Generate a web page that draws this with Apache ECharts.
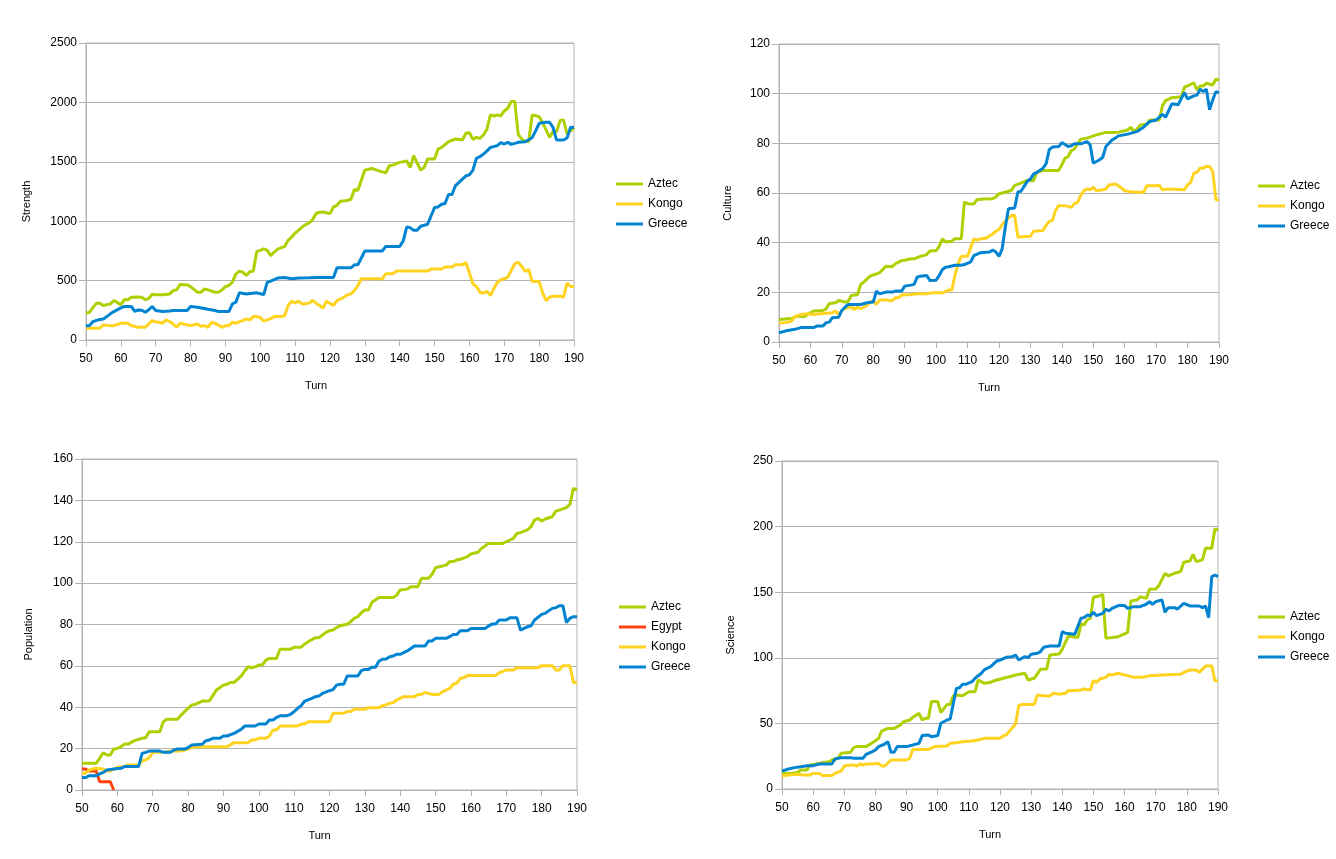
<!DOCTYPE html>
<html>
<head>
<meta charset="utf-8">
<title>Civ stats</title>
<script src="https://cdn.jsdelivr.net/npm/echarts@6/dist/echarts.min.js"></script>
<style>
  html, body { margin: 0; padding: 0; background: #fff; }
  #main { width: 1336px; height: 859px; }
</style>
</head>
<body>
<div id="main"></div>
<script>
// turns run 50..190, each pair is [turn, value]
var turnMin = 50, turnMax = 190, turnStep = 10;

// Strength
var strengthAztec = [[50,225],[51,234],[53,310],[54,310],[55,290],[57,304],[58,332],[60,298],[61,340],[62,338],[63,360],[65,362],[66,360],[67,338],[68,350],[69,385],[70,380],[72,380],[74,388],[75,416],[76,422],[77,467],[79,464],[80,450],[82,402],[83,402],[84,430],[85,422],[87,402],[88,402],[89,422],[90,450],[91,459],[92,487],[93,557],[94,580],[95,571],[96,543],[97,575],[98,580],[99,746],[100,754],[101,768],[102,754],[103,709],[104,740],[105,765],[107,788],[108,839],[109,867],[110,900],[112,951],[113,971],[114,985],[115,1013],[116,1065],[117,1075],[118,1078],[120,1064],[121,1120],[122,1134],[123,1168],[125,1175],[126,1185],[127,1267],[128,1261],[130,1430],[132,1444],[134,1424],[136,1407],[137,1467],[138,1472],[140,1495],[142,1506],[143,1452],[144,1551],[146,1430],[147,1452],[148,1523],[150,1523],[151,1607],[152,1621],[154,1669],[156,1692],[158,1683],[159,1740],[160,1745],[161,1689],[162,1706],[163,1697],[164,1726],[165,1773],[166,1894],[167,1886],[168,1894],[169,1886],[170,1928],[171,1951],[172,2007],[173,2007],[174,1731],[175,1690],[176,1672],[177,1669],[178,1894],[180,1880],[181,1830],[183,1706],[184,1754],[185,1754],[186,1847],[187,1852],[188,1734],[189,1760],[190,1788]];
var strengthKongo = [[50,99],[53,99],[54,101],[55,127],[57,121],[58,121],[60,141],[62,141],[63,120],[64,115],[65,107],[67,107],[69,163],[70,152],[71,149],[72,141],[73,169],[74,155],[75,135],[76,107],[77,141],[79,127],[80,121],[82,135],[83,115],[84,121],[85,107],[86,149],[87,140],[88,125],[89,107],[90,121],[91,121],[92,149],[93,141],[94,155],[95,163],[96,177],[97,169],[98,197],[99,197],[100,190],[101,158],[102,170],[103,180],[104,197],[106,197],[107,205],[108,290],[109,327],[110,312],[111,327],[112,304],[114,310],[115,332],[116,310],[117,290],[118,267],[119,327],[121,290],[122,332],[124,360],[125,380],[126,388],[127,416],[128,459],[129,515],[135,515],[136,557],[138,557],[139,580],[148,580],[149,597],[152,597],[153,614],[155,614],[156,633],[158,633],[159,653],[161,473],[162,450],[163,402],[164,394],[165,411],[166,374],[167,431],[168,487],[169,507],[170,515],[171,529],[173,642],[174,656],[175,619],[176,577],[177,594],[178,493],[180,493],[181,397],[182,332],[183,360],[184,369],[186,369],[187,360],[188,479],[189,450],[190,450]];
var strengthGreece = [[50,121],[51,121],[52,155],[53,165],[54,172],[55,177],[57,220],[58,239],[60,270],[61,282],[63,282],[64,242],[65,253],[66,250],[67,234],[68,255],[69,282],[70,248],[72,239],[74,244],[75,248],[79,248],[80,282],[82,276],[85,259],[87,248],[88,239],[91,239],[92,304],[93,318],[94,397],[96,388],[99,397],[100,390],[101,383],[102,487],[103,495],[105,521],[107,526],[109,515],[111,521],[114,523],[117,526],[121,526],[122,608],[126,608],[127,633],[128,633],[130,749],[135,749],[136,788],[140,788],[141,833],[142,951],[143,946],[144,923],[145,923],[146,957],[148,974],[150,1115],[151,1120],[152,1143],[153,1149],[154,1225],[155,1225],[156,1300],[158,1354],[159,1382],[160,1390],[161,1430],[162,1529],[163,1543],[164,1565],[165,1590],[166,1621],[168,1636],[169,1661],[170,1650],[171,1664],[172,1647],[173,1655],[174,1664],[176,1669],[178,1703],[179,1760],[180,1824],[182,1833],[183,1833],[184,1788],[185,1683],[187,1683],[188,1700],[189,1790],[190,1788]];

// Culture
var cultureAztec = [[50,9.1],[53,9.4],[54,9.4],[55,10.0],[56,10.4],[58,10.2],[60,11.8],[61,12.5],[64,12.7],[65,13.4],[66,15.5],[68,15.8],[69,16.7],[71,16.1],[72,16.3],[73,18.7],[75,19.1],[76,23.2],[77,24.1],[78,25.4],[79,26.5],[80,27.0],[81,27.4],[82,27.9],[84,30.5],[86,30.3],[87,31.5],[89,32.8],[90,32.9],[92,33.5],[93,33.5],[95,34.5],[97,35.2],[98,36.6],[100,36.8],[101,38.6],[102,41.5],[103,40.3],[105,40.6],[106,41.6],[108,41.6],[109,56.4],[110,55.7],[112,55.6],[113,57.3],[115,57.6],[118,57.7],[119,58.4],[120,59.7],[122,60.3],[124,61.1],[125,63.1],[127,64],[129,65.1],[131,64.9],[132,68.3],[134,69.1],[139,69.1],[140,71.4],[141,74],[142,74.7],[143,77.1],[144,77.7],[146,81.7],[148,82.1],[151,83.4],[154,84.4],[158,84.5],[161,85.4],[162,86.5],[163,84.5],[165,87.4],[167,87.7],[168,89.4],[171,89.4],[172,95.1],[173,97.2],[175,98.4],[178,98.8],[179,102.6],[180,103.1],[182,104.4],[183,101.5],[184,103.1],[185,103.1],[186,104.2],[188,103.5],[189,105.8],[190,105.5]];
var cultureKongo = [[50,7.5],[53,8],[54,8.4],[55,10.2],[57,11.1],[59,11.4],[61,11.1],[64,11.5],[67,11.8],[68,12.5],[69,11.1],[70,12.7],[71,13.6],[73,14.1],[74,13.1],[75,14.1],[76,13.4],[78,14.7],[79,16.1],[80,16.5],[81,15.1],[82,16.9],[84,16.9],[86,16.6],[87,17.8],[88,17.8],[89,18.9],[92,19.1],[94,19.4],[97,19.4],[99,19.8],[102,19.8],[104,20.9],[105,20.9],[106,27],[107,31.5],[108,34.5],[110,34.5],[111,38],[112,41.5],[113,41],[114,41.5],[116,41.9],[117,42.8],[118,43.5],[119,44.6],[120,45.3],[121,47.3],[123,49.9],[124,50.9],[125,51],[126,42.3],[130,42.6],[131,44.6],[134,44.9],[135,47],[136,48.6],[137,49],[138,53],[139,54.9],[141,54.9],[143,54.2],[144,55.7],[145,56.2],[146,59],[147,60.9],[148,61.6],[149,61.3],[150,62.3],[151,60.9],[153,61.3],[154,61.6],[155,63.3],[156,63.3],[157,63.7],[159,62],[160,60.9],[162,60.5],[164,60.3],[166,60.3],[167,62.9],[170,62.9],[171,63.1],[172,61.3],[174,61.6],[179,61.3],[180,63.3],[181,64.3],[182,68],[183,68.3],[184,70],[185,70],[186,70.7],[187,70.7],[188,68.7],[189,57.3],[190,57.3]];
var cultureGreece = [[50,3.7],[52,4.4],[55,5.1],[57,5.8],[61,5.8],[62,6.4],[64,6.4],[65,7.8],[66,8],[67,9.8],[69,10],[70,12.7],[71,14.0],[72,15.1],[76,15.1],[78,15.8],[80,16.1],[81,20.5],[82,19.4],[84,20.1],[86,20.1],[87,20.5],[89,20.5],[90,22.5],[92,22.9],[93,23.2],[94,26.2],[95,26.5],[97,26.8],[98,24.8],[100,24.9],[101,26.8],[102,29.2],[103,30.1],[104,30.3],[106,30.9],[108,30.9],[109,31.2],[111,32.3],[112,34.8],[114,35.9],[117,36.2],[118,37],[119,36.2],[120,34.5],[121,37.5],[122,46.2],[123,53.7],[125,54],[126,60.4],[127,60.7],[129,64.7],[130,65.6],[131,67.6],[132,68.3],[134,70],[135,71.8],[136,77.5],[137,78.5],[139,78.7],[140,80.3],[142,78.7],[143,79],[144,79.8],[146,79.8],[148,80.7],[149,79.4],[150,72],[152,73.4],[153,74.4],[154,78.7],[156,81.4],[157,82.1],[158,83],[161,83.7],[164,84.8],[165,85.7],[166,86.5],[168,88.8],[170,89.4],[172,91.7],[173,90.5],[175,95.9],[177,95.5],[178,98],[179,100.4],[180,97.9],[182,99.1],[183,99.4],[184,101.8],[185,100.8],[186,101.8],[187,93.5],[188,97.5],[189,100.8],[190,100.4]];

// Population
var popAztec = [[50,12.9],[54,12.9],[55,15.3],[56,18],[57,16.9],[58,16.9],[59,19.8],[60,20.1],[61,20.9],[62,22.2],[63,22.2],[65,24],[66,24.5],[67,25],[68,25.3],[69,28.2],[72,28.2],[73,33],[74,34.2],[77,34.2],[78,36.2],[79,37.9],[80,39.5],[81,41.1],[82,41.4],[84,43],[86,43],[87,45.6],[88,48.3],[90,50.7],[91,51.1],[92,52],[93,52],[94,53.5],[95,55],[96,57.5],[97,59.6],[98,59.1],[99,59.5],[100,60.4],[101,60.4],[102,62.8],[103,63.6],[105,63.6],[106,68],[109,68],[110,69],[112,69],[113,70.6],[114,71.7],[116,73.6],[117,73.6],[119,76.2],[120,77],[121,77.3],[122,78.5],[123,79.4],[125,80.1],[126,81.4],[127,83],[128,83.8],[129,85.7],[130,87],[131,87],[132,90.7],[134,93],[138,93],[139,94.2],[140,96.7],[142,97.1],[143,98.3],[145,98.3],[146,102.3],[148,102.3],[149,104.2],[150,107.5],[151,107.9],[153,108.7],[154,110.4],[155,110.4],[156,111.2],[157,111.5],[159,112.8],[160,114.1],[162,114.9],[163,116.8],[165,119.2],[169,119.2],[170,120],[172,121.6],[173,124],[174,124.4],[176,125.7],[177,127.3],[178,130.5],[179,131.3],[180,130],[181,131],[183,132.1],[184,134.8],[185,135.3],[187,136.5],[188,138.1],[189,145.8],[190,145]];
var popEgypt = [[50,10.1],[51,10.1],[52,9.2],[54,9.2],[55,4],[58,4],[59,0]];
var popKongo = [[50,8.1],[51,8.1],[52,9.7],[54,10.5],[56,10.1],[57,9.2],[58,9.2],[60,11],[62,11.3],[63,12.1],[66,12.1],[67,14.2],[68,14.5],[69,15.6],[70,18.2],[73,18.2],[75,18.8],[78,18.8],[80,19.8],[81,20.5],[82,20.9],[91,20.9],[93,22.9],[97,22.9],[98,24.2],[99,24.2],[100,25],[102,25],[103,26.1],[104,29],[105,29],[106,30.9],[111,30.9],[112,31.9],[113,31.9],[114,33],[120,33],[121,37.1],[124,37.1],[125,37.9],[126,37.9],[127,39],[130,39],[131,39.8],[134,39.8],[135,40.8],[136,41.1],[137,41.9],[138,42.2],[139,43.5],[141,45.1],[144,45.1],[145,46.2],[146,46.2],[147,47.2],[148,46.7],[149,46.2],[151,46.2],[152,47.5],[154,49.1],[155,51.1],[156,51.6],[157,54],[158,54.3],[159,55.3],[167,55.3],[168,56.7],[169,57.2],[170,58],[172,58],[173,59.1],[179,59.1],[180,60.1],[183,60.1],[184,58],[185,58],[186,60.1],[188,60.1],[189,52],[190,52]];
var popGreece = [[50,6],[51,6],[52,6.9],[54,6.9],[55,7.8],[56,8.5],[57,9.7],[59,10.1],[61,10.5],[62,11.3],[66,11.3],[67,17.7],[68,18.2],[69,18.8],[72,18.8],[73,18.2],[75,18.2],[76,19.3],[77,19.8],[79,19.8],[80,20.5],[81,21.7],[84,22.1],[85,23.8],[86,24.2],[87,25],[89,25],[90,26.1],[91,26.1],[93,27.4],[95,29.3],[96,30.9],[99,30.9],[100,31.9],[102,31.9],[103,33.8],[104,33.8],[105,35],[106,35.9],[108,35.9],[109,36.6],[110,37.9],[111,39.5],[112,40.8],[113,43],[115,44.3],[116,45.1],[117,45.4],[118,46.7],[120,48],[121,48.5],[122,50.7],[123,51.1],[124,51.1],[125,55.1],[128,55.1],[129,57.7],[130,58.3],[131,58.3],[132,59.3],[133,59.3],[134,62.3],[135,63.2],[136,63.3],[137,64.4],[138,64.8],[139,65.6],[140,65.6],[142,67.2],[144,69.6],[147,69.6],[148,72],[149,72],[150,73.3],[153,73.3],[154,74.1],[155,75.2],[156,75.2],[157,77],[159,77],[160,78.1],[164,78.1],[165,79.3],[166,80.2],[167,80.2],[168,82.2],[170,82.2],[171,83.3],[173,83.3],[174,77.3],[175,78.1],[176,78.9],[177,79.4],[178,82.2],[180,84.9],[181,85.4],[183,87.8],[184,88.1],[185,89.1],[186,89.1],[187,81],[188,83],[189,83.8],[190,83.8]];

// Science
var sciAztec = [[50,11.9],[53,11.9],[55,12.5],[56,14.5],[58,14.5],[59,18.3],[61,19.1],[63,20.1],[65,20.8],[66,22.1],[68,23.4],[69,27.2],[72,28],[73,31.5],[74,32.3],[77,32.3],[79,35.3],[80,36.8],[81,38.6],[82,44.2],[84,46.2],[86,46.2],[88,48.8],[89,51.3],[91,52.6],[92,54.6],[94,57.7],[95,52.6],[96,53.9],[97,53.9],[98,66.6],[100,66.6],[101,58.2],[103,64.5],[104,64.5],[105,71.1],[106,71.7],[108,71.1],[110,74.2],[112,74.2],[113,83.1],[115,80.5],[117,81.3],[118,82.5],[120,83.6],[121,84.4],[124,86.1],[125,86.9],[128,88.2],[129,83.1],[131,84.4],[133,91.2],[135,91.5],[136,102.1],[139,102.9],[140,106.5],[141,111.8],[142,116.6],[145,115.4],[146,125.8],[147,125],[148,128.8],[149,130.1],[150,146.1],[152,147.1],[153,148.4],[154,114.9],[156,115.4],[158,116.1],[160,118.2],[161,119.4],[162,143.3],[164,144.1],[165,146.6],[167,145.3],[168,152.2],[170,152.5],[171,155],[173,164.4],[174,162.4],[176,164.4],[178,165.7],[179,172.8],[181,173.8],[182,178.9],[183,173.3],[185,174.6],[186,183.5],[188,183.5],[189,198.2],[190,197.4]];
var sciKongo = [[50,9.9],[52,10.7],[55,11.2],[57,10.7],[59,10.7],[60,11.9],[62,11.9],[63,10.2],[66,10.2],[67,11.9],[69,13.7],[70,17.5],[72,18.3],[73,18.3],[74,17.5],[75,19.1],[76,18.3],[77,19.1],[79,19.1],[81,19.6],[82,17.5],[83,17.5],[85,22.1],[90,22.1],[91,23.4],[92,30.2],[97,30.2],[99,32.3],[103,32.8],[104,34.8],[106,35.3],[108,36.1],[111,36.6],[113,37.4],[115,38.6],[120,38.6],[121,40.4],[122,41.2],[124,46.8],[125,49.3],[126,63.3],[127,64.5],[131,64.5],[132,71.7],[134,71.1],[136,70.9],[137,72.9],[139,72.2],[141,72.9],[142,75],[144,75],[146,75.5],[147,76.2],[149,75.5],[150,82.6],[151,81.1],[152,83.9],[154,85.1],[155,87.4],[156,86.9],[158,88.2],[159,87.4],[161,86.4],[163,85.1],[166,85.1],[168,86.4],[172,86.9],[178,87.4],[179,88.9],[181,90.7],[183,90.7],[184,88.9],[186,93.8],[188,93.8],[189,82.6],[190,82.6]];
var sciGreece = [[50,13.7],[52,15.2],[54,16.3],[56,17],[58,17.8],[60,17.8],[62,19.1],[66,19.1],[67,22.9],[69,23.9],[72,23.9],[73,23.4],[76,23.4],[77,26.4],[79,28.5],[80,29.7],[81,32.3],[83,34.3],[84,36.1],[85,28],[86,28],[87,32.3],[90,32.3],[92,33.5],[94,34.8],[95,40.7],[97,41.2],[98,39.9],[100,40.7],[101,50.1],[103,52.6],[104,53.4],[106,76.7],[107,77.2],[108,79.8],[109,79.8],[111,81.8],[112,84.4],[114,88.2],[115,91],[117,93.3],[119,97.6],[120,98.3],[122,100.4],[124,100.9],[125,102.1],[126,98.3],[128,100.9],[129,100.1],[130,102.7],[132,103.4],[133,104.7],[134,108],[136,109],[139,109],[140,119.9],[141,118.7],[144,117.9],[146,130.1],[147,130.6],[148,132.6],[149,132.1],[150,134.7],[151,132.1],[153,133.9],[154,137],[155,135.7],[156,137.7],[158,139.8],[160,139.8],[161,137.7],[163,139],[165,139],[167,140.8],[168,142.8],[169,140.8],[170,142.8],[172,144.1],[173,134.7],[174,138.2],[176,138.2],[177,137.2],[179,141.5],[181,139.5],[184,139.5],[185,138.2],[186,139.5],[187,130.6],[188,161.9],[189,163.1],[190,161.9]];

var colors = { Aztec: '#aecf00', Egypt: '#ff420e', Kongo: '#ffd320', Greece: '#0084d1' };
var gray = '#b3b3b3';
var font = 'Liberation Sans';
// flat bar used as legend key, like the office chart
var legendKey = 'path://M0,0 L27,0 L27,3 L0,3 Z';

var myChart = echarts.init(document.getElementById('main'));

// one panel = grid + axes + legend
var panels = [
    { grid: { left: 86, top: 43, width: 488, height: 297 }, yName: 'Strength', yMax: 2500, yStep: 500, yGap: 54, xShift: 28,
      legendTop: 178, legendLeft: 616,
      lines: [['Aztec', strengthAztec], ['Kongo', strengthKongo], ['Greece', strengthGreece]] },
    { grid: { left: 779, top: 44, width: 440, height: 298 }, yName: 'Culture', yMax: 120, yStep: 20, yGap: 46, xShift: 20,
      legendTop: 180, legendLeft: 1258,
      lines: [['Aztec', cultureAztec], ['Kongo', cultureKongo], ['Greece', cultureGreece]] },
    { grid: { left: 82, top: 459, width: 495, height: 331 }, yName: 'Population', yMax: 160, yStep: 20, yGap: 48, xShift: 20,
      legendTop: 601, legendLeft: 619,
      lines: [['Aztec', popAztec], ['Egypt', popEgypt], ['Kongo', popKongo], ['Greece', popGreece]] },
    { grid: { left: 782, top: 461, width: 436, height: 328 }, yName: 'Science', yMax: 250, yStep: 50, yGap: 46, xShift: 20,
      legendTop: 611, legendLeft: 1258,
      lines: [['Aztec', sciAztec], ['Kongo', sciKongo], ['Greece', sciGreece]] }
];

var grids = [], xAxes = [], yAxes = [], legends = [], series = [];

panels.forEach(function (p, i) {
    var g = p.grid;
    g.show = true;
    g.borderColor = gray;
    g.borderWidth = 1;
    g.backgroundColor = '#fff';
    grids.push(g);

    xAxes.push({
        type: 'value', gridIndex: i, min: turnMin, max: turnMax, interval: turnStep,
        name: 'Turn', nameLocation: 'middle', nameGap: 40,
        nameTextStyle: { fontFamily: font, fontSize: 11, color: '#000', padding: [0, p.xShift, 0, 0] },
        axisLine: { lineStyle: { color: gray } },
        axisTick: { show: true, length: 6, lineStyle: { color: gray } },
        axisLabel: { fontFamily: font, fontSize: 12, color: '#000', margin: 13 },
        splitLine: { show: false }
    });

    yAxes.push({
        type: 'value', gridIndex: i, min: 0, max: p.yMax, interval: p.yStep,
        name: p.yName, nameLocation: 'middle', nameGap: p.yGap,
        nameTextStyle: { fontFamily: font, fontSize: 11, color: '#000', padding: [0, 20, 0, 0] },
        axisLine: { show: true, lineStyle: { color: gray } },
        axisTick: { show: true, length: 7, lineStyle: { color: gray } },
        axisLabel: { fontFamily: font, fontSize: 12, color: '#000', margin: 9,
            formatter: function (v) { return String(v); } },
        splitLine: { show: true, lineStyle: { color: gray, width: 1 } }
    });

    legends.push({
        orient: 'vertical', left: p.legendLeft, top: p.legendTop, padding: 0,
        icon: legendKey, itemWidth: 27, itemHeight: 12, itemGap: 8,
        textStyle: { fontFamily: font, fontSize: 12, color: '#000' },
        data: p.lines.map(function (l) { return l[0]; })
    });

    p.lines.forEach(function (l) {
        series.push({
            type: 'line', name: l[0], xAxisIndex: i, yAxisIndex: i,
            data: l[1], showSymbol: false, symbol: 'none',
            lineStyle: { color: colors[l[0]], width: 3 },
            itemStyle: { color: colors[l[0]] },
            animation: false
        });
    });
});

myChart.setOption({
    backgroundColor: '#fff',
    animation: false,
    grid: grids,
    xAxis: xAxes,
    yAxis: yAxes,
    legend: legends,
    series: series
});
</script>
</body>
</html>
